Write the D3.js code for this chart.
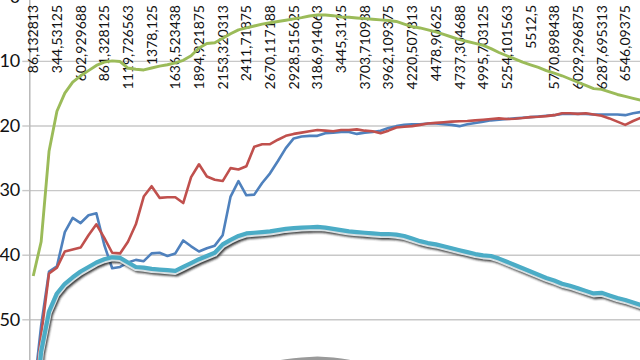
<!DOCTYPE html>
<html>
<head>
<meta charset="utf-8">
<script src="https://cdn.jsdelivr.net/npm/d3@7"></script>
<style>
  html, body { margin: 0; padding: 0; background: #fff; overflow: hidden; }
  svg { display: block; }
</style>
</head>
<body>
<div id="chart"></div>
<script>
// frequency bins (Hz), Excel shows them with a decimal comma
let categories = [
  "86,132813","172,265625","258,398438","344,53125","430,664063","516,796875","602,929688","689,0625",
  "775,195313","861,328125","947,460938","1033,59375","1119,726563","1205,859375","1291,992188","1378,125",
  "1464,257813","1550,390625","1636,523438","1722,65625","1808,789063","1894,921875","1981,054688","2067,1875",
  "2153,320313","2239,453125","2325,585938","2411,71875","2497,851563","2583,984375","2670,117188","2756,25",
  "2842,382813","2928,515625","3014,648438","3100,78125","3186,914063","3273,046875","3359,179688","3445,3125",
  "3531,445313","3617,578125","3703,710938","3789,84375","3875,976563","3962,109375","4048,242188","4134,375",
  "4220,507813","4306,640625","4392,773438","4478,90625","4565,039063","4651,171875","4737,304688","4823,4375",
  "4909,570313","4995,703125","5081,835938","5167,96875","5254,101563","5340,234375","5426,367188","5512,5",
  "5598,632813","5684,765625","5770,898438","5857,03125","5943,164063","6029,296875","6115,429688","6201,5625",
  "6287,695313","6373,828125","6459,960938","6546,09375","6632,226563","6718,359375"
];

let yTicks = [0, 10, 20, 30, 40, 50];

let greenValues = [
  43.3, 38.0, 24.0, 17.8, 15.0, 13.3, 12.3, 11.5, 10.7, 10.2, 10.0, 10.1, 11.1, 11.3, 11.4, 11.1,
  10.8, 10.6, 10.3, 9.9, 9.2, 8.0, 7.3, 7.2, 6.5, 5.8, 5.2, 4.9, 4.6, 4.3, 4.1, 3.9,
  3.7, 3.5, 3.3, 3.05, 2.9, 2.9, 3.0, 3.2, 3.25, 3.35, 3.45, 3.55, 3.65, 3.75, 3.9, 4.3,
  4.7, 4.9, 5.2, 5.5, 5.9, 6.3, 6.7, 7.0, 7.3, 7.6, 8.1, 8.7, 9.2, 9.7, 10.2, 10.6,
  11.0, 11.5, 11.9, 12.3, 12.8, 13.3, 13.8, 14.3, 14.4, 14.8, 15.2, 15.5, 15.8, 16.1
];

let blueValues = [
  62, 51, 42.6, 41.8, 36.5, 34.3, 35.1, 33.9, 33.6, 38.5, 42.1, 41.9, 41.2, 40.8, 41.0, 39.8,
  39.7, 40.2, 39.8, 37.8, 38.7, 39.5, 39.0, 38.6, 37.0, 31.0, 28.6, 30.8, 30.7, 28.9, 27.4, 25.5,
  23.5, 22.0, 21.7, 21.6, 21.6, 21.2, 21.1, 21.0, 21.0, 21.3, 21.1, 21.0, 20.8, 20.4, 20.1, 19.9,
  19.8, 19.8, 19.7, 19.7, 19.8, 19.9, 20.1, 19.8, 19.6, 19.4, 19.2, 19.1, 19.0, 18.9, 18.8, 18.7,
  18.6, 18.5, 18.4, 18.2, 18.2, 18.2, 18.2, 18.3, 18.3, 18.3, 18.3, 18.4, 18.1, 17.9
];

let redValues = [
  63, 52.5, 42.9, 42.0, 39.5, 39.2, 38.9, 37.0, 35.3, 37.4, 39.7, 39.8, 38.0, 35.3, 31.0, 29.4,
  31.2, 31.1, 31.1, 32.0, 28.0, 26.0, 27.9, 28.4, 28.6, 26.6, 26.8, 26.3, 23.3, 22.9, 22.9, 22.2,
  21.6, 21.3, 21.1, 20.9, 20.7, 20.8, 20.9, 20.7, 20.7, 20.6, 20.8, 20.9, 21.2, 20.8, 20.3, 20.2,
  20.1, 19.9, 19.7, 19.6, 19.5, 19.4, 19.35, 19.3, 19.2, 19.1, 19.0, 18.9, 19.0, 18.95, 18.85, 18.7,
  18.65, 18.55, 18.4, 18.1, 18.1, 18.2, 18.1, 18.3, 18.5, 18.9, 19.4, 19.9, 19.3, 18.8
];

let tealValues = [
  68, 55, 48.8, 46.0, 44.5, 43.5, 42.6, 41.9, 41.2, 40.7, 40.4, 40.5, 41.2, 41.9, 42.0, 42.2,
  42.3, 42.4, 42.5, 41.9, 41.3, 40.7, 40.2, 39.7, 38.4, 37.7, 37.1, 36.7, 36.6, 36.5, 36.4, 36.2,
  36.0, 35.9, 35.8, 35.75, 35.7, 35.8, 36.0, 36.2, 36.4, 36.5, 36.6, 36.7, 36.8, 36.8, 36.9, 37.1,
  37.5, 37.9, 38.2, 38.4, 38.7, 39.0, 39.3, 39.6, 39.9, 40.1, 40.2, 40.6, 41.1, 41.6, 42.1, 42.6,
  43.1, 43.6, 44.0, 44.5, 44.8, 45.2, 45.6, 46.0, 45.9, 46.3, 46.7, 47.0, 47.4, 47.8
];

// the series that only peeks in at the bottom edge
let grayValues = [
  70, 68, 66, 64, 63, 62, 62, 61.5, 61, 61, 60.8, 60.8, 61, 61.5, 61.8, 62,
  62, 62, 62, 61.6, 61, 60, 59.5, 59, 58.8, 58.4, 58, 57.7, 57.4, 57.1, 56.9, 56.7,
  56.5, 56.35, 56.25, 56.15, 56.1, 56.15, 56.25, 56.4, 56.6, 56.8, 57.0, 57.2, 57.4, 57.6, 57.8, 58.1,
  58.4, 58.7, 59, 59.3, 59.6, 60, 60.3, 60.6, 61, 61.3, 61.5, 61.8, 62.2, 62.6, 63, 63.5,
  64, 64.5, 65, 65.4, 65.8, 66.2, 66.6, 67, 67, 67.4, 67.8, 68, 68.4, 68.8
];

let dimensions = {
  width: 640,
  height: 360,
  axisX: 29.3,
  step: 7.893,
  yTop: -3.7,
  yPer10: 64.6
};

let svg = d3.select('#chart')
  .append('svg')
  .attr('width', dimensions.width)
  .attr('height', dimensions.height);

let defs = svg.append('defs');
defs.append('filter')
  .attr('id', 'blur')
  .attr('x', '-10%').attr('y', '-50%').attr('width', '120%').attr('height', '200%')
  .append('feGaussianBlur')
  .attr('stdDeviation', 1.2);

// x scale: one band per frequency bin, lines go through band centres
let x = d3.scaleBand()
  .domain(categories)
  .range([dimensions.axisX, dimensions.axisX + categories.length * dimensions.step])
  .padding(0);

// reversed value axis: 0 at the top
let y = d3.scaleLinear()
  .domain([0, 60])
  .range([dimensions.yTop, dimensions.yTop + dimensions.yPer10 * 6]);

let cx = d => x(d) + x.bandwidth() / 2;

// gridlines
svg.append('g')
  .attr('transform', `translate(${dimensions.axisX},0)`)
  .call(d3.axisLeft(y).tickValues(yTicks).tickSize(-(dimensions.width - dimensions.axisX + 10)).tickFormat(''))
  .call(g => g.select('.domain').remove())
  .call(g => g.selectAll('line').attr('stroke', '#c8c8c8').attr('stroke-width', 1.4));

// y axis with labels
svg.append('g')
  .attr('transform', `translate(${dimensions.axisX},0)`)
  .call(d3.axisLeft(y).tickValues(yTicks).tickSize(7).tickPadding(2).tickSizeOuter(0))
  .call(g => g.select('.domain').attr('stroke', '#b4b4b4').attr('stroke-width', 1.4))
  .call(g => g.selectAll('line').attr('stroke', '#c8c8c8').attr('stroke-width', 1.4))
  .call(g => g.selectAll('text')
    .attr('font-family', 'Lato, "Open Sans", sans-serif')
    .attr('font-size', 18)
    .attr('fill', '#111'));

// category labels, every third bin, rotated under the top axis
let xLabels = categories.filter((c, i) => i % 3 === 0);
svg.append('g')
  .selectAll('text')
  .data(xLabels)
  .enter()
  .append('text')
  .attr('transform', d => `translate(${cx(d)},5) rotate(-90)`)
  .attr('dy', '0.36em')
  .attr('text-anchor', 'end')
  .attr('font-family', 'Lato, "Open Sans", sans-serif')
  .attr('font-size', 14)
  .attr('fill', '#111')
  .text(d => d);

let line = d3.line()
  .x((v, i) => cx(categories[i]))
  .y(v => y(v));

let plain = [
  { values: greenValues, color: '#9bbb59', w: 2.9 },
  { values: blueValues, color: '#4f81bd', w: 2.6 },
  { values: redValues, color: '#c0504d', w: 2.6 }
];

svg.selectAll('path.series')
  .data(plain)
  .enter()
  .append('path')
  .attr('class', 'series')
  .attr('d', d => line(d.values))
  .attr('fill', 'none')
  .attr('stroke', d => d.color)
  .attr('stroke-width', d => d.w)
  .attr('stroke-linejoin', 'round');

// shadowed series
function shadowLine(values, color) {
  let g = svg.append('g');
  g.append('path')
    .attr('d', line(values))
    .attr('transform', 'translate(1.5,3.4)')
    .attr('fill', 'none')
    .attr('stroke', '#262626')
    .attr('stroke-opacity', 0.9)
    .attr('stroke-width', 4.5)
    .attr('filter', 'url(#blur)');
  g.append('path')
    .attr('d', line(values))
    .attr('transform', 'translate(0,1.3)')
    .attr('fill', 'none')
    .attr('stroke', '#d8e0e3')
    .attr('stroke-width', 5.5)
    .attr('stroke-linejoin', 'round');
  g.append('path')
    .attr('d', line(values))
    .attr('fill', 'none')
    .attr('stroke', color)
    .attr('stroke-width', 4.2)
    .attr('stroke-linejoin', 'round');
}

shadowLine(tealValues, '#4bacc6');
shadowLine(grayValues, '#9a9a9a');
</script>
</body>
</html>
